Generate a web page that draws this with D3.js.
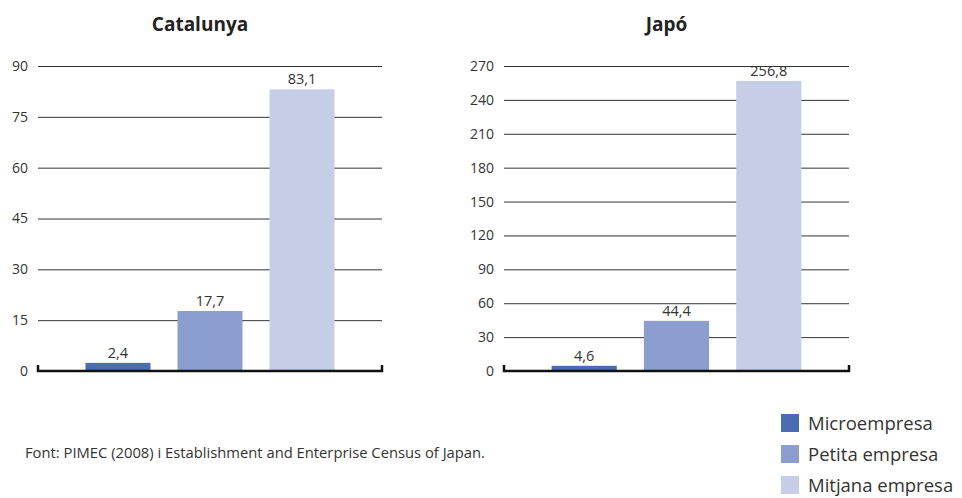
<!DOCTYPE html>
<html><head><meta charset="utf-8">
<script src="https://cdn.jsdelivr.net/npm/d3@7"></script>
<style>
body{margin:0;background:#fff;}
svg text{font-family:"Open Sans",sans-serif;}
</style></head>
<body><svg id="c" width="962" height="498"></svg>
<script>
const categories = ["Microempresa","Petita empresa","Mitjana empresa"];
const catalunyaValues = [2.4, 17.7, 83.1];
const japoValues = [4.6, 44.4, 256.8];
const catalunyaTicks = [0,15,30,45,60,75,90];
const japoTicks = [0,30,60,90,120,150,180,210,240,270];
const titles = ["Catalunya","Japó"];
const colors = ["#4a6cb3","#8c9ecd","#c6cee7"];
const sourceText = "Font: PIMEC (2008) i Establishment and Enterprise Census of Japan.";

const svg = d3.select("#c");
const fmt = v => String(v).replace(".", ",");

function panel(x0, x1, values, ticks, title){
  const y = d3.scaleLinear().domain([0, ticks[ticks.length-1]]).range([371, 66]);
  const x = d3.scaleBand().domain(categories).range([x0, x1]).paddingInner(0.2935).paddingOuter(0.516);
  const g = svg.append("g");
  g.append("text").attr("x",(x0+x1)/2-10).attr("y",31).attr("text-anchor","middle")
    .attr("font-size",19).attr("font-weight",700).attr("fill","#222").text(title);
  const ax = d3.axisLeft(y).tickValues(ticks).tickSize(-(x1-x0)).tickPadding(10).tickFormat(d=>d);
  const ag = g.append("g").attr("transform",`translate(${x0},0)`).call(ax);
  ag.select(".domain").remove();
  ag.selectAll(".tick line").attr("stroke","#333").attr("stroke-width",1)
    .filter(d=>d===0).remove();
  ag.selectAll(".tick text").attr("font-size",14).attr("fill","#333");
  g.selectAll("rect.bar").data(values).enter().append("rect")
    .attr("x",(d,i)=>x(categories[i])).attr("width",x.bandwidth())
    .attr("y",d=>y(d)).attr("height",d=>y(0)-y(d)).attr("fill",(d,i)=>colors[i]);
  g.selectAll("text.val").data(values).enter().append("text")
    .attr("x",(d,i)=>x(categories[i])+x.bandwidth()/2).attr("y",d=>y(d)-5)
    .attr("text-anchor","middle").attr("font-size",14.5).attr("fill","#333")
    .text(d=>fmt(d));
  g.append("path").attr("d",`M${x0},${y(0)-6}V${y(0)}H${x1}V${y(0)-6}`)
    .attr("fill","none").attr("stroke","#111").attr("stroke-width",2.5);
}
panel(38, 382, catalunyaValues, catalunyaTicks, titles[0]);
panel(504, 849, japoValues, japoTicks, titles[1]);

svg.append("text").attr("x",25).attr("y",458).attr("font-size",14).attr("fill","#333")
  .attr("textLength",460).attr("lengthAdjust","spacingAndGlyphs").text(sourceText);

const lg = svg.append("g");
categories.forEach((c,i)=>{
  lg.append("rect").attr("x",781).attr("y",414+i*31).attr("width",18).attr("height",18).attr("fill",colors[i]);
  lg.append("text").attr("x",808).attr("y",430+i*31).attr("font-size",18.5).attr("fill","#333")
    .text(c);
});
</script></body></html>
